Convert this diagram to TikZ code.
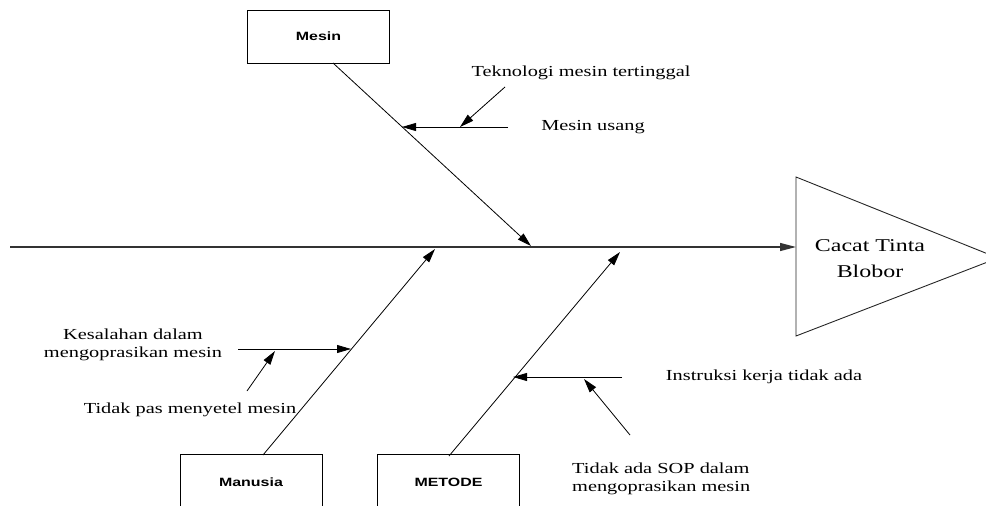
\documentclass[tikz,border=0pt]{standalone}
\usepackage{fontspec}
\usetikzlibrary{arrows.meta}
\newfontfamily\lserif[FakeStretch=1.33]{Liberation Serif}
\newfontfamily\lsans[FakeStretch=1.33]{Liberation Sans}
\tikzset{
  catbox/.style={draw, line width=0.9pt, minimum width=142pt, inner sep=0pt, font=\lsans\bfseries\fontsize{12}{14}\selectfont},
  lbl/.style={inner sep=0pt, font=\lserif\fontsize{15.3}{18}\selectfont},
  bone/.style={line width=0.8pt, -{Triangle[length=14pt,width=8pt]}},
  spine/.style={line width=1.3pt, draw=black!80, -{Triangle[length=16pt,width=8pt]}}
}
\begin{document}
\begin{tikzpicture}[x=1pt,y=-1pt]
\useasboundingbox (0,0) rectangle (986,506);
\clip (0,0) rectangle (986,506);
% effect triangle
\draw[line width=0.9pt, draw=black!85] (796,177) -- (998,258) -- (796,336) -- cycle;
\node[inner sep=0pt, align=center, font=\lserif\fontsize{18}{26}\selectfont] (effect) at (870,259) {Cacat Tinta\\Blobor};
\coordinate (s0) at (10,247);
\coordinate (s1) at (796,247);
\draw[spine] (s0) -- (s1);
% category boxes
\node[catbox, minimum height=53pt] (mesin) at (318.5,36.5) {Mesin};
\node[catbox, minimum height=56pt] (manusia) at (251,482) {Manusia};
\node[catbox, minimum height=56pt] (metode) at (448.5,482) {METODE};
% labels
\node[lbl] (t1) at (581,73) {Teknologi mesin tertinggal};
\node[lbl] (t2) at (593,127) {Mesin usang};
\node[lbl, align=center] (t3) at (133,345) {Kesalahan dalam\\mengoprasikan mesin};
\node[lbl] (t4) at (190,410) {Tidak pas menyetel mesin};
\node[lbl] (t5) at (764,377) {Instruksi kerja tidak ada};
\node[lbl, align=left, anchor=west] (t6) at (572,479) {Tidak ada SOP dalam\\mengoprasikan mesin};
% Mesin bone
\coordinate (m0) at (333,63);
\coordinate (m1) at (531,246);
\coordinate (m2) at (508,127);
\coordinate (m3) at (402,127);
\coordinate (m4) at (505,87);
\coordinate (m5) at (460,127);
\draw[bone] (m0) -- (m1);
\draw[bone] (m2) -- (m3);
\draw[bone] (m4) -- (m5);
% Manusia bone
\coordinate (h0) at (263,455);
\coordinate (h1) at (435,249);
\coordinate (h2) at (238,349);
\coordinate (h3) at (351,349);
\coordinate (h4) at (247,391);
\coordinate (h5) at (275,351);
\draw[bone] (h0) -- (h1);
\draw[bone] (h2) -- (h3);
\draw[bone] (h4) -- (h5);
% Metode bone
\coordinate (d0) at (449,456);
\coordinate (d1) at (620,252);
\coordinate (d2) at (622,377);
\coordinate (d3) at (513,377);
\coordinate (d4) at (630,435);
\coordinate (d5) at (584,379);
\draw[bone] (d0) -- (d1);
\draw[bone] (d2) -- (d3);
\draw[bone] (d4) -- (d5);
\end{tikzpicture}
\end{document}
